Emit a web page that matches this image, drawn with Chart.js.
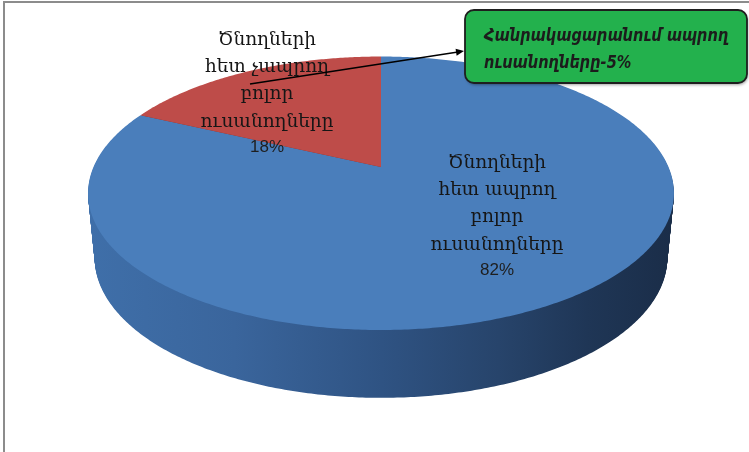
<!DOCTYPE html>
<html><head><meta charset="utf-8">
<script src="https://cdn.jsdelivr.net/npm/chart.js@4.4.1/dist/chart.umd.min.js"></script>
<style>html,body{margin:0;padding:0;background:#fff;overflow:hidden}canvas{display:block}</style>
</head><body>
<canvas id="c" width="749" height="452"></canvas>
<script>
// ---- data ----
const categories = ['Ծնողների հետ ապրող բոլոր ուսանողները', 'Ծնողների հետ չապրող բոլոր ուսանողները'];
const values = [82, 18];
const valueLabels = ['82%', '18%'];
const labelLines = [
  ['Ծնողների', 'հետ ապրող', 'բոլոր', 'ուսանողները'],
  ['Ծնողների', 'հետ չապրող', 'բոլոր', 'ուսանողները']
];
const calloutLines = ['Հանրակացարանում ապրող', 'ուսանողները-5%'];

// ---- style ----
const topColors = ['#4a7ebb', '#be4c49'];
const sideColors = ['#2f5383', '#7d2f2d'];
const TOP = {cx: 381, cy: 167, a: 287.5, b: 131.7, p: 0.192};
const BOT = {cx: 381, cy: 231, a: 281, b: 134.8, p: 0.192};
const labelPos = [{x: 497, y: 163}, {x: 267, y: 40}];
const lineGap = 27.3;

function proj(P, t) {
  const s = Math.sin(t), c = Math.cos(t);
  const w = 1 - P.p * s;
  return [P.cx + P.a * c / w, P.cy + P.b * s / w];
}
function lerpP(A, B, k) {
  const o = {};
  for (const key in A) o[key] = A[key] + (B[key] - A[key]) * k;
  return o;
}
function slicePath(ctx, P, s, e) {
  ctx.beginPath();
  ctx.moveTo(P.cx, P.cy);
  const n = Math.max(4, Math.ceil((e - s) / 0.01));
  for (let i = 0; i <= n; i++) {
    const pt = proj(P, s + (e - s) * i / n);
    ctx.lineTo(pt[0], pt[1]);
  }
  ctx.closePath();
}

const pie3d = {
  id: 'pie3d',
  beforeDatasetsDraw(chart) {
    const ctx = chart.ctx;
    const meta = chart.getDatasetMeta(0);
    const arcs = meta.data.map(el => ({s: el.startAngle, e: el.endAngle}));
    ctx.save();
    const grad = ctx.createLinearGradient(88, 0, 675, 0);
    grad.addColorStop(0, '#3f6fa9');
    grad.addColorStop(0.25, '#3a659c');
    grad.addColorStop(0.5, '#2f5383');
    grad.addColorStop(0.7, '#27446b');
    grad.addColorStop(0.85, '#1f3656');
    grad.addColorStop(1, '#1a2d48');
    const layers = 70;
    for (let L = 0; L < layers; L++) {
      const P = lerpP(BOT, TOP, L / layers);
      arcs.forEach((a, i) => {
        slicePath(ctx, P, a.s, a.e);
        ctx.fillStyle = i === 0 ? grad : sideColors[i];
        ctx.fill();
      });
    }
    arcs.forEach((a, i) => {
      slicePath(ctx, TOP, a.s, a.e);
      ctx.fillStyle = topColors[i];
      ctx.fill();
    });
    ctx.restore();
    return false;
  },
  afterDraw(chart) {
    const ctx = chart.ctx;
    ctx.save();
    // frame
    ctx.strokeStyle = '#8c8c8c';
    ctx.lineWidth = 2;
    ctx.beginPath();
    ctx.moveTo(4, 452); ctx.lineTo(4, 2); ctx.lineTo(749, 2);
    ctx.stroke();
    // slice labels
    ctx.textAlign = 'center';
    ctx.textBaseline = 'middle';
    labelLines.forEach((lines, i) => {
      const p = labelPos[i];
      ctx.fillStyle = '#161616';
      ctx.font = '18.5px "DejaVu Serif", "DejaVu Sans", serif';
      lines.forEach((t, j) => ctx.fillText(t, p.x, p.y + j * lineGap));
      ctx.fillStyle = '#1e1e1e';
      ctx.font = '17px "Liberation Sans", Arial, sans-serif';
      ctx.fillText(valueLabels[i], p.x, p.y + lines.length * lineGap - 2);
    });
    // leader arrow
    const x1 = 250, y1 = 84, x2 = 464, y2 = 51;
    ctx.strokeStyle = '#000';
    ctx.lineWidth = 1.6;
    ctx.beginPath(); ctx.moveTo(x1, y1); ctx.lineTo(x2 - 6, y2 + 1); ctx.stroke();
    const ang = Math.atan2(y2 - y1, x2 - x1);
    ctx.fillStyle = '#000';
    ctx.beginPath();
    ctx.moveTo(x2, y2);
    ctx.lineTo(x2 - 8 * Math.cos(ang) + 3.5 * Math.sin(ang), y2 - 8 * Math.sin(ang) - 3.5 * Math.cos(ang));
    ctx.lineTo(x2 - 8 * Math.cos(ang) - 3.5 * Math.sin(ang), y2 - 8 * Math.sin(ang) + 3.5 * Math.cos(ang));
    ctx.closePath(); ctx.fill();
    // callout box
    const bx = 465, by = 10, bw = 282, bh = 73, r = 9;
    ctx.beginPath();
    ctx.moveTo(bx + r, by);
    ctx.arcTo(bx + bw, by, bx + bw, by + bh, r);
    ctx.arcTo(bx + bw, by + bh, bx, by + bh, r);
    ctx.arcTo(bx, by + bh, bx, by, r);
    ctx.arcTo(bx, by, bx + bw, by, r);
    ctx.closePath();
    ctx.shadowColor = 'rgba(0,0,0,0.35)';
    ctx.shadowOffsetX = 1; ctx.shadowOffsetY = 2; ctx.shadowBlur = 3;
    ctx.fillStyle = '#23b14d';
    ctx.fill();
    ctx.shadowColor = 'transparent';
    ctx.strokeStyle = '#1e1e1e';
    ctx.lineWidth = 1.8;
    ctx.stroke();
    ctx.fillStyle = '#1c1c1c';
    ctx.textAlign = 'left';
    ctx.font = 'italic bold 18px "DejaVu Sans", sans-serif';
    ctx.translate(484, 0);
    ctx.scale(0.81, 1);
    ctx.fillText(calloutLines[0], 0, 36);
    ctx.fillText(calloutLines[1], 0, 63);
    ctx.restore();
  }
};

new Chart(document.getElementById('c'), {
  type: 'pie',
  data: {
    labels: categories,
    datasets: [{data: values, backgroundColor: topColors, borderWidth: 0}]
  },
  options: {
    responsive: false,
    animation: false,
    events: [],
    plugins: {legend: {display: false}, tooltip: {enabled: false}}
  },
  plugins: [pie3d]
});
</script>
</body></html>
